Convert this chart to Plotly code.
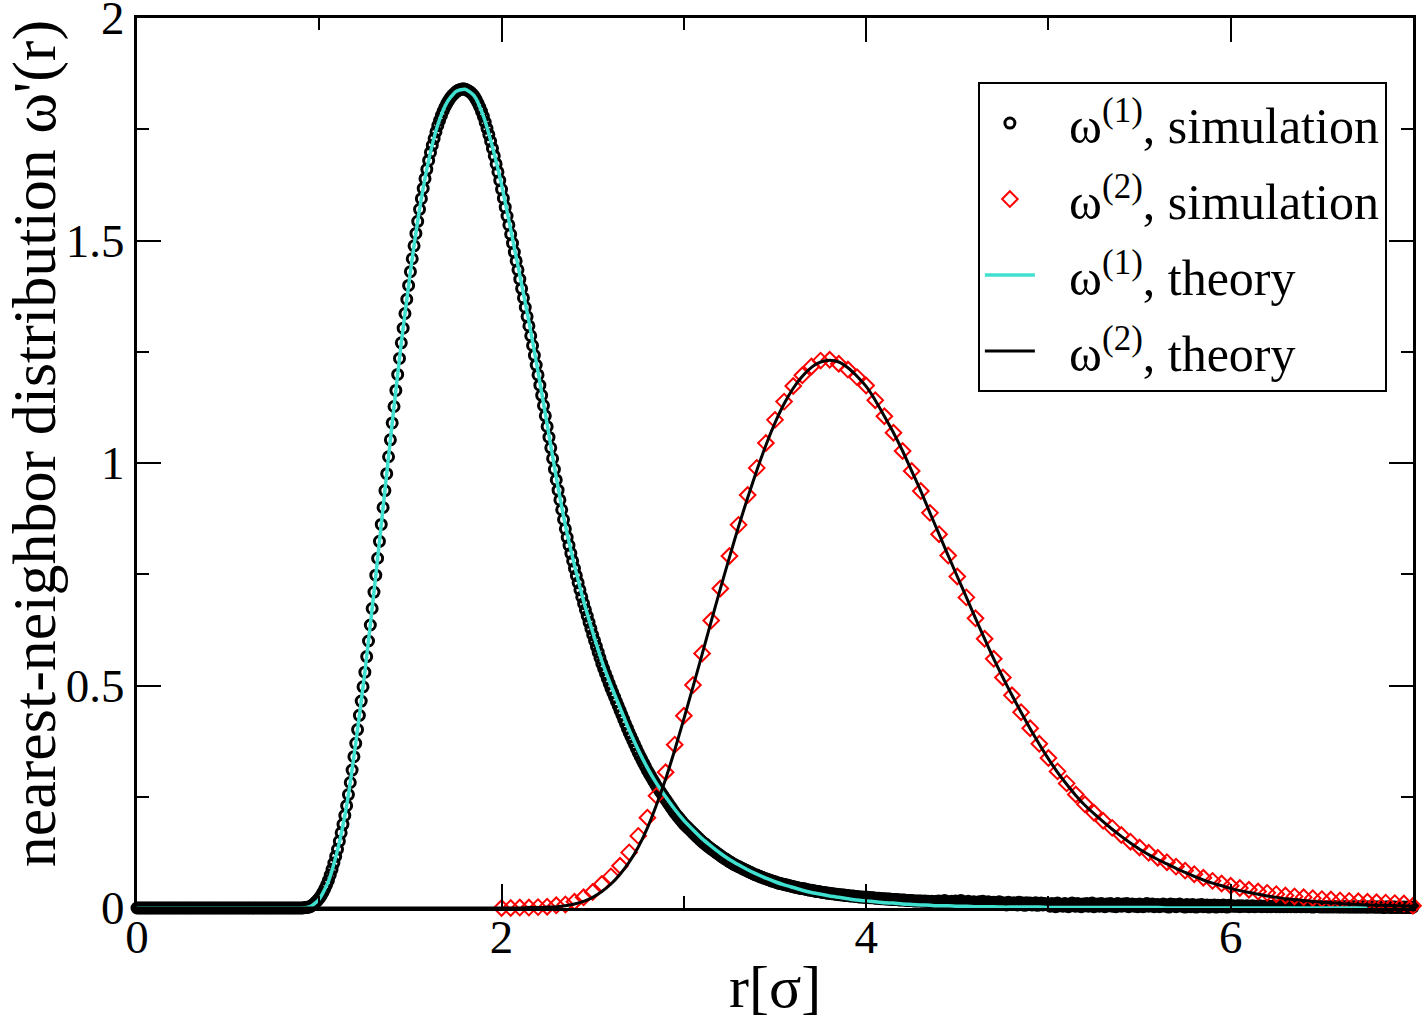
import numpy as np
import plotly.graph_objects as go

# ---------------- data ----------------
# simulation omega^(1): r = 0.00 ... 7.00, step 0.01
SIM1_STEP = 0.01
SIM1_Y = [
    0, 0, 0, 0, 0, 0, 0, 0, 0, 0,
    0, 0, 0, 0, 0, 0, 0, 0, 0, 0,
    0, 0, 0, 0, 0, 0, 0, 0, 0, 0,
    0, 0, 0, 0, 0, 0, 0, 0, 0, 0,
    0, 0, 0, 0, 0, 0, 0, 0, 0, 0,
    0, 0, 0, 0, 0, 0, 0, 0, 0, 0,
    0, 0, 0, 0, 0, 0, 0, 0, 0, 0,
    0, 0, 0, 0, 0, 0, 0, 0, 0, 0,
    0, 0, 0, 0, 0, 0, 0, 0, 0, 0,
    0.000, 0.000, 0.001, 0.001, 0.002, 0.003, 0.006, 0.009, 0.013, 0.017,
    0.022, 0.028, 0.035, 0.043, 0.052, 0.062, 0.074, 0.087, 0.101, 0.116,
    0.132, 0.150, 0.169, 0.188, 0.208, 0.230, 0.255, 0.282, 0.310, 0.340,
    0.370, 0.401, 0.433, 0.465, 0.497, 0.530, 0.565, 0.600, 0.636, 0.673,
    0.710, 0.748, 0.786, 0.824, 0.862, 0.900, 0.938, 0.976, 1.014, 1.052,
    1.090, 1.127, 1.163, 1.199, 1.235, 1.270, 1.303, 1.336, 1.368, 1.399,
    1.430, 1.459, 1.488, 1.516, 1.543, 1.570, 1.594, 1.617, 1.639, 1.660,
    1.680, 1.698, 1.714, 1.729, 1.744, 1.758, 1.770, 1.781, 1.791, 1.800,
    1.808, 1.815, 1.821, 1.826, 1.830, 1.834, 1.837, 1.839, 1.840, 1.841,
    1.840, 1.838, 1.836, 1.833, 1.829, 1.824, 1.817, 1.809, 1.800, 1.790,
    1.779, 1.766, 1.752, 1.738, 1.723, 1.707, 1.690, 1.672, 1.654, 1.635,
    1.615, 1.595, 1.575, 1.555, 1.535, 1.514, 1.494, 1.474, 1.454, 1.434,
    1.413, 1.392, 1.371, 1.350, 1.329, 1.308, 1.286, 1.264, 1.242, 1.220,
    1.198, 1.175, 1.152, 1.129, 1.106, 1.082, 1.058, 1.034, 1.010, 0.986,
    0.962, 0.939, 0.917, 0.895, 0.873, 0.852, 0.833, 0.815, 0.797, 0.780,
    0.763, 0.747, 0.731, 0.715, 0.699, 0.684, 0.670, 0.656, 0.642, 0.628,
    0.614, 0.601, 0.588, 0.575, 0.562, 0.549, 0.538, 0.527, 0.516, 0.505,
    0.494, 0.484, 0.474, 0.464, 0.454, 0.444, 0.434, 0.424, 0.414, 0.404,
    0.394, 0.385, 0.376, 0.367, 0.358, 0.349, 0.341, 0.333, 0.325, 0.317,
    0.309, 0.302, 0.295, 0.288, 0.281, 0.274, 0.268, 0.262, 0.256, 0.250,
    0.244, 0.238, 0.232, 0.226, 0.220, 0.214, 0.209, 0.204, 0.199, 0.194,
    0.189, 0.185, 0.181, 0.177, 0.173, 0.169, 0.165, 0.161, 0.157, 0.153,
    0.149, 0.146, 0.143, 0.139, 0.136, 0.133, 0.130, 0.127, 0.124, 0.121,
    0.118, 0.115, 0.112, 0.110, 0.107, 0.104, 0.102, 0.099, 0.097, 0.095,
    0.093, 0.091, 0.089, 0.087, 0.085, 0.083, 0.081, 0.079, 0.077, 0.075,
    0.074, 0.072, 0.070, 0.069, 0.067, 0.066, 0.064, 0.063, 0.061, 0.060,
    0.059, 0.057, 0.056, 0.055, 0.054, 0.053, 0.052, 0.051, 0.050, 0.049,
    0.048, 0.047, 0.046, 0.045, 0.044, 0.044, 0.043, 0.042, 0.041, 0.040,
    0.040, 0.039, 0.038, 0.037, 0.037, 0.036, 0.035, 0.035, 0.034, 0.033,
    0.033, 0.032, 0.032, 0.031, 0.031, 0.030, 0.030, 0.029, 0.029, 0.028,
    0.028, 0.027, 0.027, 0.027, 0.026, 0.026, 0.025, 0.025, 0.025, 0.024,
    0.024, 0.024, 0.023, 0.023, 0.023, 0.022, 0.022, 0.022, 0.021, 0.021,
    0.021, 0.020, 0.020, 0.020, 0.019, 0.019, 0.019, 0.019, 0.018, 0.018,
    0.018, 0.018, 0.017, 0.017, 0.017, 0.017, 0.016, 0.016, 0.016, 0.016,
    0.016, 0.015, 0.016, 0.015, 0.015, 0.014, 0.015, 0.014, 0.014, 0.015,
    0.016, 0.010, 0.013, 0.017, 0.011, 0.014, 0.009, 0.015, 0.012, 0.016,
    0.010, 0.014, 0.017, 0.011, 0.013, 0.009, 0.015, 0.012, 0.010, 0.014,
    0.012, 0.008, 0.014, 0.011, 0.015, 0.009, 0.012, 0.014, 0.008, 0.011,
    0.013, 0.009, 0.011, 0.014, 0.008, 0.012, 0.010, 0.007, 0.013, 0.010,
    0.008, 0.012, 0.010, 0.007, 0.013, 0.009, 0.011, 0.006, 0.012, 0.009,
    0.011, 0.007, 0.010, 0.012, 0.006, 0.009, 0.011, 0.007, 0.010, 0.008,
    0.009, 0.004, 0.010, 0.006, 0.003, 0.011, 0.005, 0.008, 0.004, 0.010,
    0.006, 0.003, 0.009, 0.011, 0.005, 0.004, 0.010, 0.007, 0.003, 0.009,
    0.005, 0.010, 0.004, 0.008, 0.011, 0.003, 0.006, 0.009, 0.004, 0.010,
    0.007, 0.003, 0.009, 0.005, 0.010, 0.004, 0.008, 0.003, 0.010, 0.006,
    0.004, 0.009, 0.005, 0.010, 0.003, 0.007, 0.009, 0.004, 0.008, 0.003,
    0.009, 0.005, 0.003, 0.008, 0.010, 0.004, 0.006, 0.009, 0.003, 0.007,
    0.008, 0.003, 0.006, 0.009, 0.004, 0.007, 0.002, 0.009, 0.005, 0.008,
    0.003, 0.007, 0.009, 0.004, 0.006, 0.002, 0.008, 0.005, 0.003, 0.008,
    0.006, 0.002, 0.007, 0.004, 0.008, 0.003, 0.005, 0.007, 0.002, 0.006,
    0.004, 0.007, 0.002, 0.006, 0.005, 0.003, 0.007, 0.004, 0.002, 0.006,
    0.004, 0.005, 0.004, 0.004, 0.005, 0.003, 0.005, 0.004, 0.004, 0.005,
    0.003, 0.004, 0.005, 0.003, 0.004, 0.004, 0.005, 0.003, 0.004, 0.004,
    0.003, 0.004, 0.003, 0.004, 0.005, 0.003, 0.004, 0.003, 0.004, 0.003,
    0.004, 0.003, 0.004, 0.003, 0.004, 0.003, 0.003, 0.004, 0.003, 0.003,
    0.004, 0.003, 0.003, 0.004, 0.003, 0.002, 0.003, 0.004, 0.003, 0.003,
    0.002, 0.003, 0.003, 0.002, 0.003, 0.003, 0.002, 0.003, 0.003, 0.002,
    0.003, 0.002, 0.003, 0.002, 0.003, 0.002, 0.002, 0.003, 0.002, 0.002,
    0.003, 0.002, 0.002, 0.003, 0.002, 0.002, 0.002, 0.003, 0.002, 0.002,
    0.002, 0.002, 0.002, 0.002, 0.001, 0.002, 0.002, 0.002, 0.001, 0.002,
    0.002, 0.001, 0.002, 0.002, 0.001, 0.002, 0.001, 0.002, 0.001, 0.001,
    0.002,
]

# simulation omega^(2): r = 2.00 ... 7.00, step 0.05
SIM2_START = 2.0
SIM2_STEP = 0.05
SIM2_Y = [
    0.000, 0.000, 0.001, 0.001, 0.002, 0.003, 0.006, 0.008, 0.014, 0.024,
    0.036, 0.054, 0.071, 0.095, 0.125, 0.162, 0.203, 0.252, 0.305, 0.367,
    0.432, 0.501, 0.572, 0.646, 0.718, 0.791, 0.861, 0.928, 0.989, 1.045,
    1.097, 1.138, 1.173, 1.197, 1.217, 1.230, 1.232, 1.223, 1.210, 1.193,
    1.174, 1.141, 1.105, 1.068, 1.027, 0.982, 0.937, 0.888, 0.840, 0.792,
    0.745, 0.698, 0.651, 0.605, 0.560, 0.518, 0.478, 0.440, 0.404, 0.369,
    0.337, 0.307, 0.280, 0.255, 0.233, 0.214, 0.196, 0.180, 0.164, 0.149,
    0.136, 0.124, 0.113, 0.103, 0.093, 0.084, 0.076, 0.068, 0.061, 0.055,
    0.050, 0.045, 0.041, 0.037, 0.034, 0.031, 0.028, 0.026, 0.024, 0.022,
    0.020, 0.019, 0.017, 0.016, 0.015, 0.014, 0.013, 0.012, 0.011, 0.010,
    0.005,
]

# theory omega^(1): r = 0.00 ... 6.85, step 0.05
TH1_STEP = 0.05
TH1_Y = [
    0, 0, 0, 0, 0, 0, 0, 0, 0, 0,
    0, 0, 0, 0, 0, 0, 0, 0,
    0.000, 0.003, 0.020, 0.060, 0.130, 0.230, 0.370, 0.530, 0.710, 0.900,
    1.090, 1.270, 1.430, 1.570, 1.680, 1.760, 1.810, 1.835, 1.840, 1.825,
    1.780, 1.710, 1.625, 1.525, 1.422, 1.318, 1.205, 1.087, 0.968, 0.860,
    0.770, 0.690, 0.620, 0.555, 0.500, 0.450, 0.400, 0.355, 0.315, 0.280,
    0.250, 0.222, 0.197, 0.176, 0.156, 0.139, 0.123, 0.109, 0.097, 0.086,
    0.076, 0.067, 0.059, 0.052, 0.046, 0.040, 0.035, 0.031, 0.027, 0.024,
    0.021, 0.018, 0.016, 0.014, 0.012, 0.011, 0.009, 0.008, 0.007, 0.006,
    0.005, 0.005, 0.004, 0.004, 0.003, 0.003, 0.003, 0.002, 0.002, 0.002,
    0.002, 0.002, 0.001, 0.001, 0.001, 0.001, 0.001, 0.001, 0.001, 0.001,
    0.001, 0.001, 0.001, 0.001, 0.001, 0.000, 0.000, 0.000, 0.000, 0.000,
    0.000, 0.000, 0.000, 0.000, 0.000, 0.000, 0.000, 0.000, 0.000, 0.000,
    0.000, 0.000, 0.000, 0.000, 0.000, 0.000, 0.000, 0.000,
]

# theory omega^(2): r = 0.00 ... 7.00, step 0.05
TH2_STEP = 0.05
TH2_Y = [
    0, 0, 0, 0, 0, 0, 0, 0, 0, 0,
    0, 0, 0, 0, 0, 0, 0, 0, 0, 0,
    0, 0, 0, 0, 0, 0, 0, 0, 0, 0,
    0, 0, 0, 0, 0, 0, 0, 0, 0, 0,
    0.000, 0.000, 0.000, 0.001, 0.001, 0.002, 0.003, 0.005, 0.009, 0.015,
    0.024, 0.037, 0.054, 0.076, 0.103, 0.137, 0.180, 0.232, 0.290, 0.355,
    0.425, 0.497, 0.570, 0.644, 0.717, 0.788, 0.857, 0.922, 0.983, 1.040,
    1.090, 1.133, 1.168, 1.195, 1.215, 1.227, 1.231, 1.227, 1.214, 1.195,
    1.172, 1.141, 1.105, 1.068, 1.027, 0.982, 0.937, 0.888, 0.840, 0.792,
    0.745, 0.698, 0.651, 0.605, 0.560, 0.518, 0.478, 0.440, 0.403, 0.368,
    0.335, 0.305, 0.278, 0.253, 0.231, 0.212, 0.194, 0.177, 0.161, 0.146,
    0.132, 0.120, 0.109, 0.099, 0.089, 0.080, 0.071, 0.063, 0.056, 0.050,
    0.044, 0.039, 0.035, 0.031, 0.027, 0.024, 0.021, 0.019, 0.017, 0.015,
    0.013, 0.012, 0.010, 0.009, 0.008, 0.007, 0.006, 0.006, 0.005, 0.005,
    0.004,
]

LEGEND_NAMES = [
    "ω<sup>(1)</sup>, simulation",
    "ω<sup>(2)</sup>, simulation",
    "ω<sup>(1)</sup>, theory",
    "ω<sup>(2)</sup>, theory",
]
X_TITLE = "r[σ]"
Y_TITLE = "nearest-neighbor distribution ω'(r)"
X_TICKS = [0, 2, 4, 6]
Y_TICKS = [0, 0.5, 1, 1.5, 2]
Y_TICK_TEXT = ["0", "0.5", "1", "1.5", "2"]

# ---------------- build ----------------
sim1_x = np.round(np.arange(len(SIM1_Y)) * SIM1_STEP, 4)
sim2_x = np.round(SIM2_START + np.arange(len(SIM2_Y)) * SIM2_STEP, 4)
th1_x = np.round(np.arange(len(TH1_Y)) * TH1_STEP, 4)
th2_x = np.round(np.arange(len(TH2_Y)) * TH2_STEP, 4)

FONT = "Liberation Serif, Times New Roman, serif"
TURQ = "#40E0D0"
PAD = "\u2002\u200a"  # spacing between legend symbol and text

fig = go.Figure()
fig.add_trace(go.Scatter(
    x=sim1_x, y=SIM1_Y, mode="markers", name=PAD + LEGEND_NAMES[0], legendgroup="a",
    marker=dict(symbol="circle-open", size=10, color="black", line=dict(width=3, color="black")),
    cliponaxis=False,
))
fig.add_trace(go.Scatter(
    x=sim2_x, y=SIM2_Y, mode="markers", name=PAD + LEGEND_NAMES[1], legendgroup="b",
    marker=dict(symbol="diamond-open", size=12, color="red", line=dict(width=2, color="red")),
    cliponaxis=False,
))
fig.add_trace(go.Scatter(
    x=th1_x, y=TH1_Y, mode="lines", name=PAD + LEGEND_NAMES[2], legendgroup="c",
    line=dict(color=TURQ, width=3.5, shape="spline", smoothing=0.6),
))
fig.add_trace(go.Scatter(
    x=th2_x, y=TH2_Y, mode="lines", name=PAD + LEGEND_NAMES[3], legendgroup="d",
    line=dict(color="black", width=3, shape="spline", smoothing=0.6),
))

axis_common = dict(
    showline=True, linecolor="black", linewidth=3, mirror="ticks",
    ticks="inside", tickcolor="black", tickwidth=2, ticklen=24,
    showgrid=False, zeroline=False, automargin=False,
    tickfont=dict(family=FONT, size=47, color="black"),
    ticklabeloverflow="allow",
)

fig.update_xaxes(
    range=[0, 7], tickmode="array", tickvals=X_TICKS, ticktext=[str(v) for v in X_TICKS],
    minor=dict(ticks="inside", ticklen=12, tickwidth=2, tickcolor="black", dtick=1, tick0=0, showgrid=False),
    ticklabelstandoff=-14,
    **axis_common,
)
fig.update_yaxes(
    range=[0, 2], tickmode="array", tickvals=Y_TICKS, ticktext=Y_TICK_TEXT,
    minor=dict(ticks="inside", ticklen=12, tickwidth=2, tickcolor="black", dtick=0.25, tick0=0, showgrid=False),
    ticklabelstandoff=0,
    **axis_common,
)

fig.add_annotation(
    text=Y_TITLE, textangle=-90, xref="paper", yref="paper",
    x=-0.080, y=0.522, xanchor="center", yanchor="middle", showarrow=False,
    font=dict(family=FONT, size=62, color="black"),
)
fig.add_annotation(
    text=X_TITLE, xref="paper", yref="paper",
    x=0.5, y=-0.089, xanchor="center", yanchor="middle", showarrow=False,
    font=dict(family=FONT, size=60, color="black"),
)

fig.update_layout(
    width=1423, height=1021,
    margin=dict(l=137, r=10, t=18, b=113),
    paper_bgcolor="white", plot_bgcolor="white",
    showlegend=True,
    legend=dict(
        x=0.659, y=0.928, xanchor="left", yanchor="top",
        bgcolor="white", bordercolor="black", borderwidth=2,
        font=dict(family=FONT, size=50, color="black"),
        itemwidth=50, tracegroupgap=8,
    ),
    font=dict(family=FONT, color="black"),
)

fig.write_html("out.html")
